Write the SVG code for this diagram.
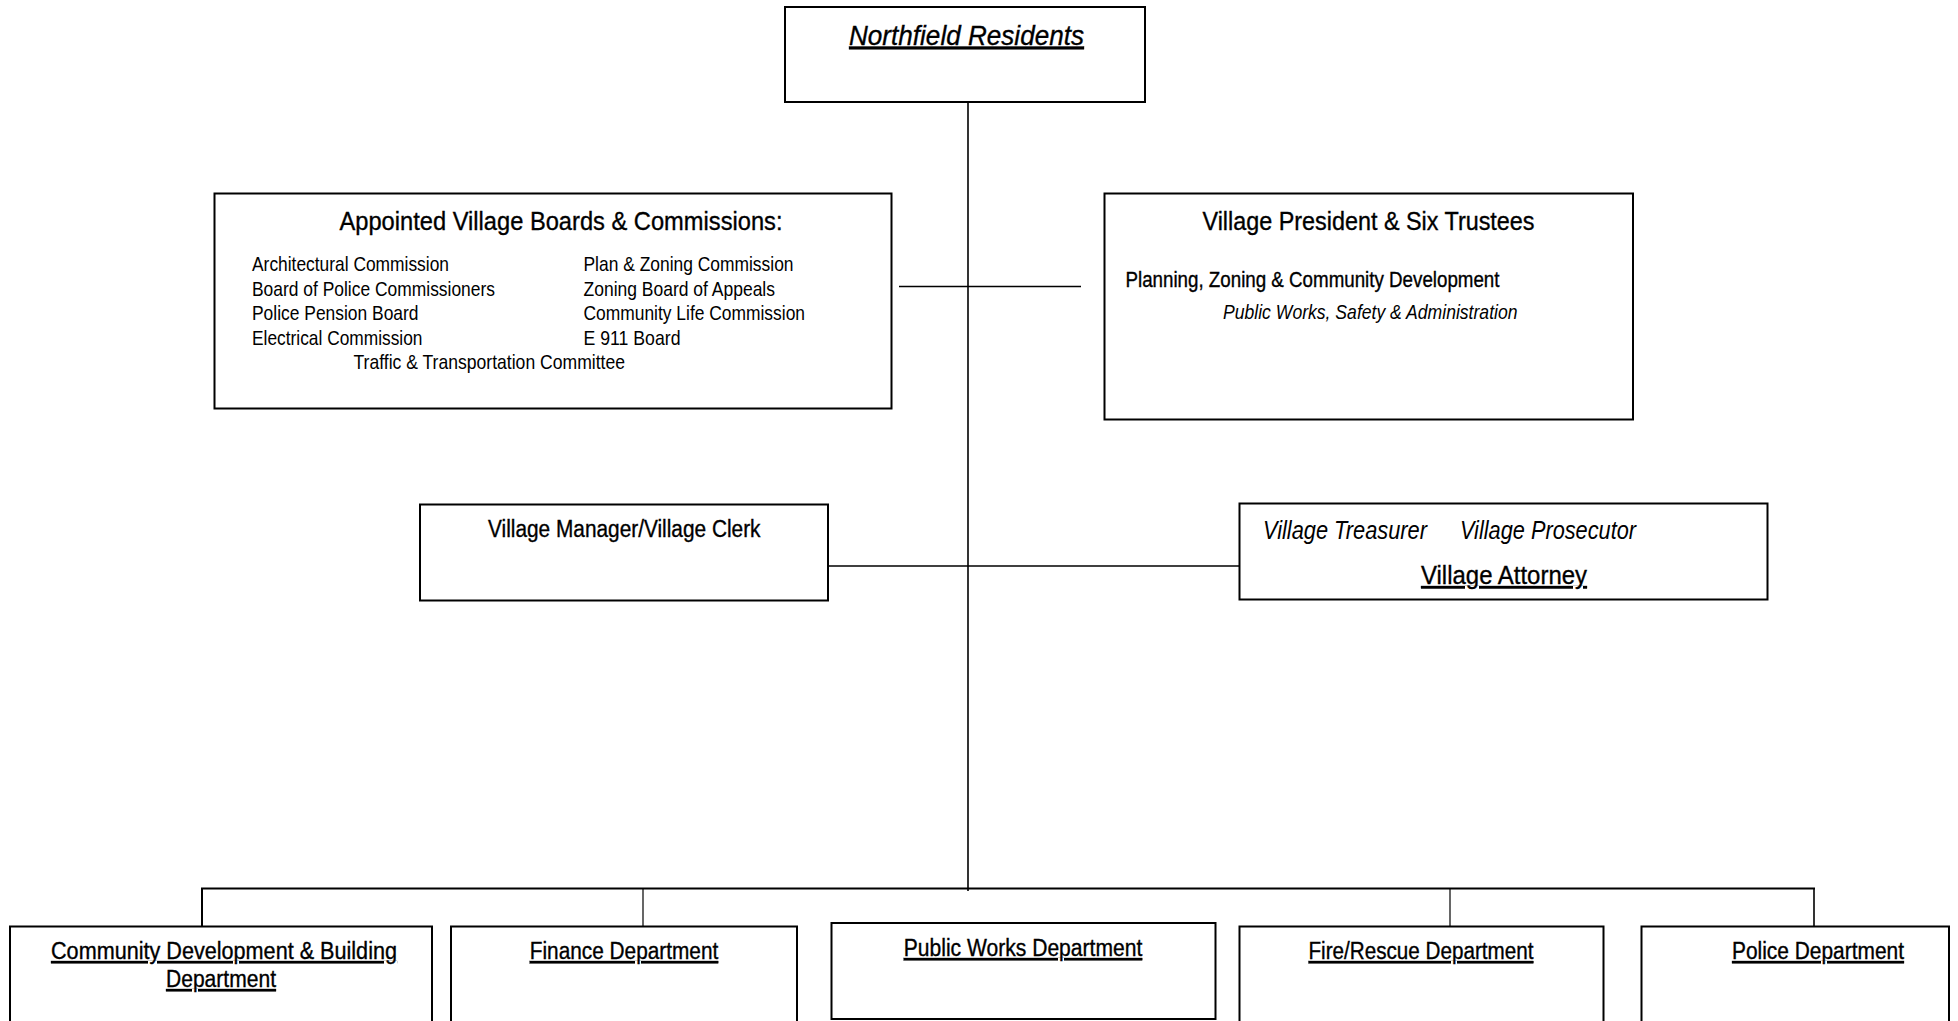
<svg xmlns="http://www.w3.org/2000/svg" width="1958" height="1021" viewBox="0 0 1958 1021">
<style>
.box{fill:#fff;stroke:#000;stroke-width:2}
.ln{stroke:#000;fill:none}
text{font-family:"Liberation Sans",Arial,sans-serif;fill:#000}
.it{font-style:italic}
.u{text-decoration:underline}
.hv{stroke:#000;stroke-width:0.35}
.t24{font-size:26px}
.t22{font-size:23.5px}
.t20{font-size:21px}
</style>
<rect width="1958" height="1021" fill="#fff"/>
<g id="connectors">
<line class="ln" x1="968" y1="102" x2="968" y2="891" stroke-width="1.6"/>
<line class="ln" x1="899" y1="286.5" x2="1081" y2="286.5" stroke-width="1.6"/>
<line class="ln" x1="828" y1="566" x2="1239" y2="566" stroke-width="1.6"/>
<line class="ln" x1="201" y1="888.5" x2="1815" y2="888.5" stroke-width="2"/>
<line class="ln" x1="202" y1="888" x2="202" y2="927" stroke-width="2"/>
<line class="ln" x1="643" y1="888" x2="643" y2="927" stroke-width="1.2"/>
<line class="ln" x1="1450" y1="888" x2="1450" y2="927" stroke-width="1.2"/>
<line class="ln" x1="1814" y1="888" x2="1814" y2="927" stroke-width="1.6"/>
</g>
<g id="residents">
<rect class="box" x="785" y="7" width="360" height="95"/>
<text class="it u hv" x="966.5" y="44.5" font-size="28" text-anchor="middle" textLength="235" lengthAdjust="spacingAndGlyphs">Northfield Residents</text>
</g>
<g id="boards">
<rect class="box" x="214.5" y="193.5" width="677" height="215"/>
<text class="t24 hv" x="561" y="229.5" text-anchor="middle" textLength="443" lengthAdjust="spacingAndGlyphs">Appointed Village Boards &amp; Commissions:</text>
<text class="t20" x="252" y="271" textLength="197" lengthAdjust="spacingAndGlyphs">Architectural Commission</text>
<text class="t20" x="252" y="295.5" textLength="243" lengthAdjust="spacingAndGlyphs">Board of Police Commissioners</text>
<text class="t20" x="252" y="320" textLength="166.5" lengthAdjust="spacingAndGlyphs">Police Pension Board</text>
<text class="t20" x="252" y="344.5" textLength="170.5" lengthAdjust="spacingAndGlyphs">Electrical Commission</text>
<text class="t20" x="583.5" y="271" textLength="210" lengthAdjust="spacingAndGlyphs">Plan &amp; Zoning Commission</text>
<text class="t20" x="583.5" y="295.5" textLength="191.5" lengthAdjust="spacingAndGlyphs">Zoning Board of Appeals</text>
<text class="t20" x="583.5" y="320" textLength="221.5" lengthAdjust="spacingAndGlyphs">Community Life Commission</text>
<text class="t20" x="583.5" y="344.5" textLength="97" lengthAdjust="spacingAndGlyphs">E 911 Board</text>
<text class="t20" x="353.5" y="369" textLength="271.5" lengthAdjust="spacingAndGlyphs">Traffic &amp; Transportation Committee</text>
</g>
<g id="president">
<rect class="box" x="1104.5" y="193.5" width="528.5" height="226"/>
<text class="t24 hv" x="1202.5" y="229.5" textLength="332" lengthAdjust="spacingAndGlyphs">Village President &amp; Six Trustees</text>
<text class="hv" x="1125.5" y="286.5" font-size="21.5" stroke-width="0.6" textLength="374" lengthAdjust="spacingAndGlyphs">Planning, Zoning &amp; Community Development</text>
<text class="it t20" x="1223" y="318.5" textLength="294.5" lengthAdjust="spacingAndGlyphs">Public Works, Safety &amp; Administration</text>
</g>
<g id="manager">
<rect class="box" x="420" y="504.5" width="408" height="96"/>
<text class="t22 hv" x="488" y="536.5" textLength="272.5" lengthAdjust="spacingAndGlyphs">Village Manager/Village Clerk</text>
</g>
<g id="attorney">
<rect class="box" x="1239.5" y="503.5" width="528" height="96"/>
<text class="it t24" x="1263" y="539" textLength="164" lengthAdjust="spacingAndGlyphs">Village Treasurer</text>
<text class="it t24" x="1460" y="539" textLength="176" lengthAdjust="spacingAndGlyphs">Village Prosecutor</text>
<text class="u t24 hv" x="1421" y="584" textLength="166" lengthAdjust="spacingAndGlyphs">Village Attorney</text>
</g>
<g id="community-development">
<rect class="box" x="10" y="926.5" width="422" height="120"/>
<text class="u t22 hv" x="51" y="959" textLength="346" lengthAdjust="spacingAndGlyphs">Community Development &amp; Building </text>
<text class="u t22 hv" x="221" y="987" text-anchor="middle" textLength="110" lengthAdjust="spacingAndGlyphs">Department</text>
</g>
<g id="finance">
<rect class="box" x="451" y="926.5" width="346" height="120"/>
<text class="u t22 hv" x="624" y="959" text-anchor="middle" textLength="188.5" lengthAdjust="spacingAndGlyphs">Finance Department</text>
</g>
<g id="public-works">
<rect class="box" x="831.5" y="923" width="384" height="96"/>
<text class="u t22 hv" x="1023" y="956" text-anchor="middle" textLength="238.5" lengthAdjust="spacingAndGlyphs">Public Works Department</text>
</g>
<g id="fire">
<rect class="box" x="1239.5" y="926.5" width="364" height="120"/>
<text class="u t22 hv" x="1421" y="959" text-anchor="middle" textLength="225" lengthAdjust="spacingAndGlyphs">Fire/Rescue Department</text>
</g>
<g id="police">
<rect class="box" x="1641.5" y="926.5" width="307.5" height="120"/>
<text class="u t22 hv" x="1818" y="959" text-anchor="middle" textLength="172" lengthAdjust="spacingAndGlyphs">Police Department</text>
</g>
</svg>
